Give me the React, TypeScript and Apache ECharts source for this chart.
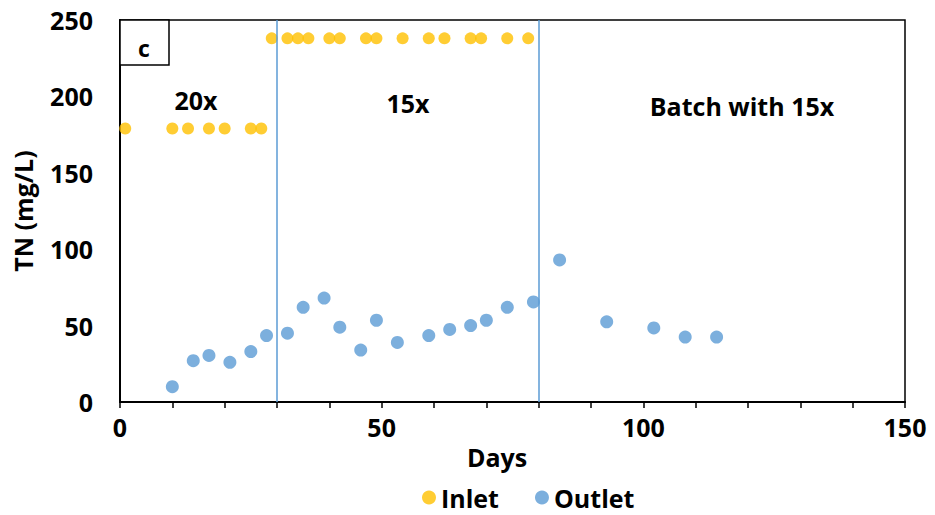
import React, { useEffect, useRef } from "react";
import * as echarts from "echarts";

// Total nitrogen (TN) at inlet and outlet over the run, in days
const inletDays = [1, 10, 13, 17, 20, 25, 27, 29, 32, 34, 36, 40, 42, 47, 49, 54, 59, 62, 67, 69, 74, 78];
const inletTN = [179, 179, 179, 179, 179, 179, 179, 238, 238, 238, 238, 238, 238, 238, 238, 238, 238, 238, 238, 238, 238, 238];

const outletDays = [10, 14, 17, 21, 25, 28, 32, 35, 39, 42, 46, 49, 53, 59, 63, 67, 70, 74, 79, 84, 93, 102, 108, 114];
const outletTN = [10, 27, 30.5, 26, 33, 43.5, 45, 62, 68, 49, 34, 53.5, 39, 43.5, 47.5, 50, 53.5, 62, 65.5, 93, 52.5, 48.5, 42.5, 42.5];

// Days at which the operating mode changes
const phaseBoundaries = [30, 80];
const phaseLabels = ["20x", "15x", "Batch with 15x"];

const FONT = "'Open Sans', Lato, sans-serif";
const FS = 25;
const bold = (size: number) => ({ fontFamily: FONT, fontWeight: "bold", fontSize: size, color: "#000" });

export default function App() {
  const ref = useRef<HTMLDivElement>(null);

  useEffect(() => {
    if (!ref.current) return;
    const chart = echarts.init(ref.current, null, { renderer: "svg" });
    const toPts = (xs: number[], ys: number[]) => xs.map((x, i) => [x, ys[i]]);
    const textEl = (text: string, x: number, y: number, size = FS, z = 5) => ({
      type: "text",
      x,
      y,
      z,
      style: { text, fontFamily: FONT, fontWeight: "bold", fontSize: size, fill: "#000", align: "center", verticalAlign: "middle" },
    });

    chart.setOption({
      animation: false,
      textStyle: { fontFamily: FONT },
      grid: {
        left: 120,
        right: 30,
        top: 20,
        bottom: 113,
        show: true,
        borderColor: "#000",
        borderWidth: 1.5,
      },
      xAxis: {
        type: "value",
        min: 0,
        max: 150,
        interval: 50,
        axisLine: { show: true, lineStyle: { color: "#000", width: 2 } },
        axisTick: { show: true, length: 6, lineStyle: { color: "#000", width: 1.5 } },
        minorTick: { show: true, splitNumber: 5, length: 6, lineStyle: { color: "#000", width: 1.5 } },
        splitLine: { show: false },
        axisLabel: { ...bold(FS), margin: 12 },
      },
      yAxis: {
        type: "value",
        min: 0,
        max: 250,
        interval: 50,
        name: "TN (mg/L)",
        nameLocation: "middle",
        nameGap: 85,
        nameTextStyle: bold(FS),
        axisLine: { show: true, lineStyle: { color: "#000", width: 2 } },
        axisTick: { show: false },
        splitLine: { show: false },
        axisLabel: { ...bold(FS), margin: 27 },
      },
      legend: {
        data: ["Inlet", "Outlet"],
        left: 417,
        top: 480,
        icon: "circle",
        itemWidth: 14,
        itemHeight: 14,
        itemGap: 36,
        textStyle: bold(FS),
      },
      series: [
        {
          name: "Inlet",
          type: "scatter",
          symbol: "circle",
          symbolSize: 12,
          itemStyle: { color: "#ffc000" },
          data: toPts(inletDays, inletTN),
          z: 3,
        },
        {
          name: "Outlet",
          type: "scatter",
          symbol: "circle",
          symbolSize: 13,
          itemStyle: { color: "#5b9bd5" },
          data: toPts(outletDays, outletTN),
          z: 3,
          markLine: {
            silent: true,
            symbol: "none",
            label: { show: false },
            lineStyle: { color: "#5b9bd5", width: 1.5, type: "solid" },
            data: phaseBoundaries.map((d) => ({ xAxis: d })),
          },
        },
      ],
      graphic: [
        {
          type: "rect",
          shape: { x: 120, y: 20, width: 49, height: 45 },
          style: { fill: "#fff", stroke: "#000", lineWidth: 1.5 },
          z: 10,
        },
        textEl("c", 144, 48, FS - 2, 11),
        textEl(phaseLabels[0], 196, 100),
        textEl(phaseLabels[1], 408, 103),
        textEl(phaseLabels[2], 742, 106),
        textEl("Days", 497, 457),
      ],
    });

    return () => chart.dispose();
  }, []);

  return <div ref={ref} style={{ width: 935, height: 515, position: "absolute", left: 0, top: 0 }} />;
}
